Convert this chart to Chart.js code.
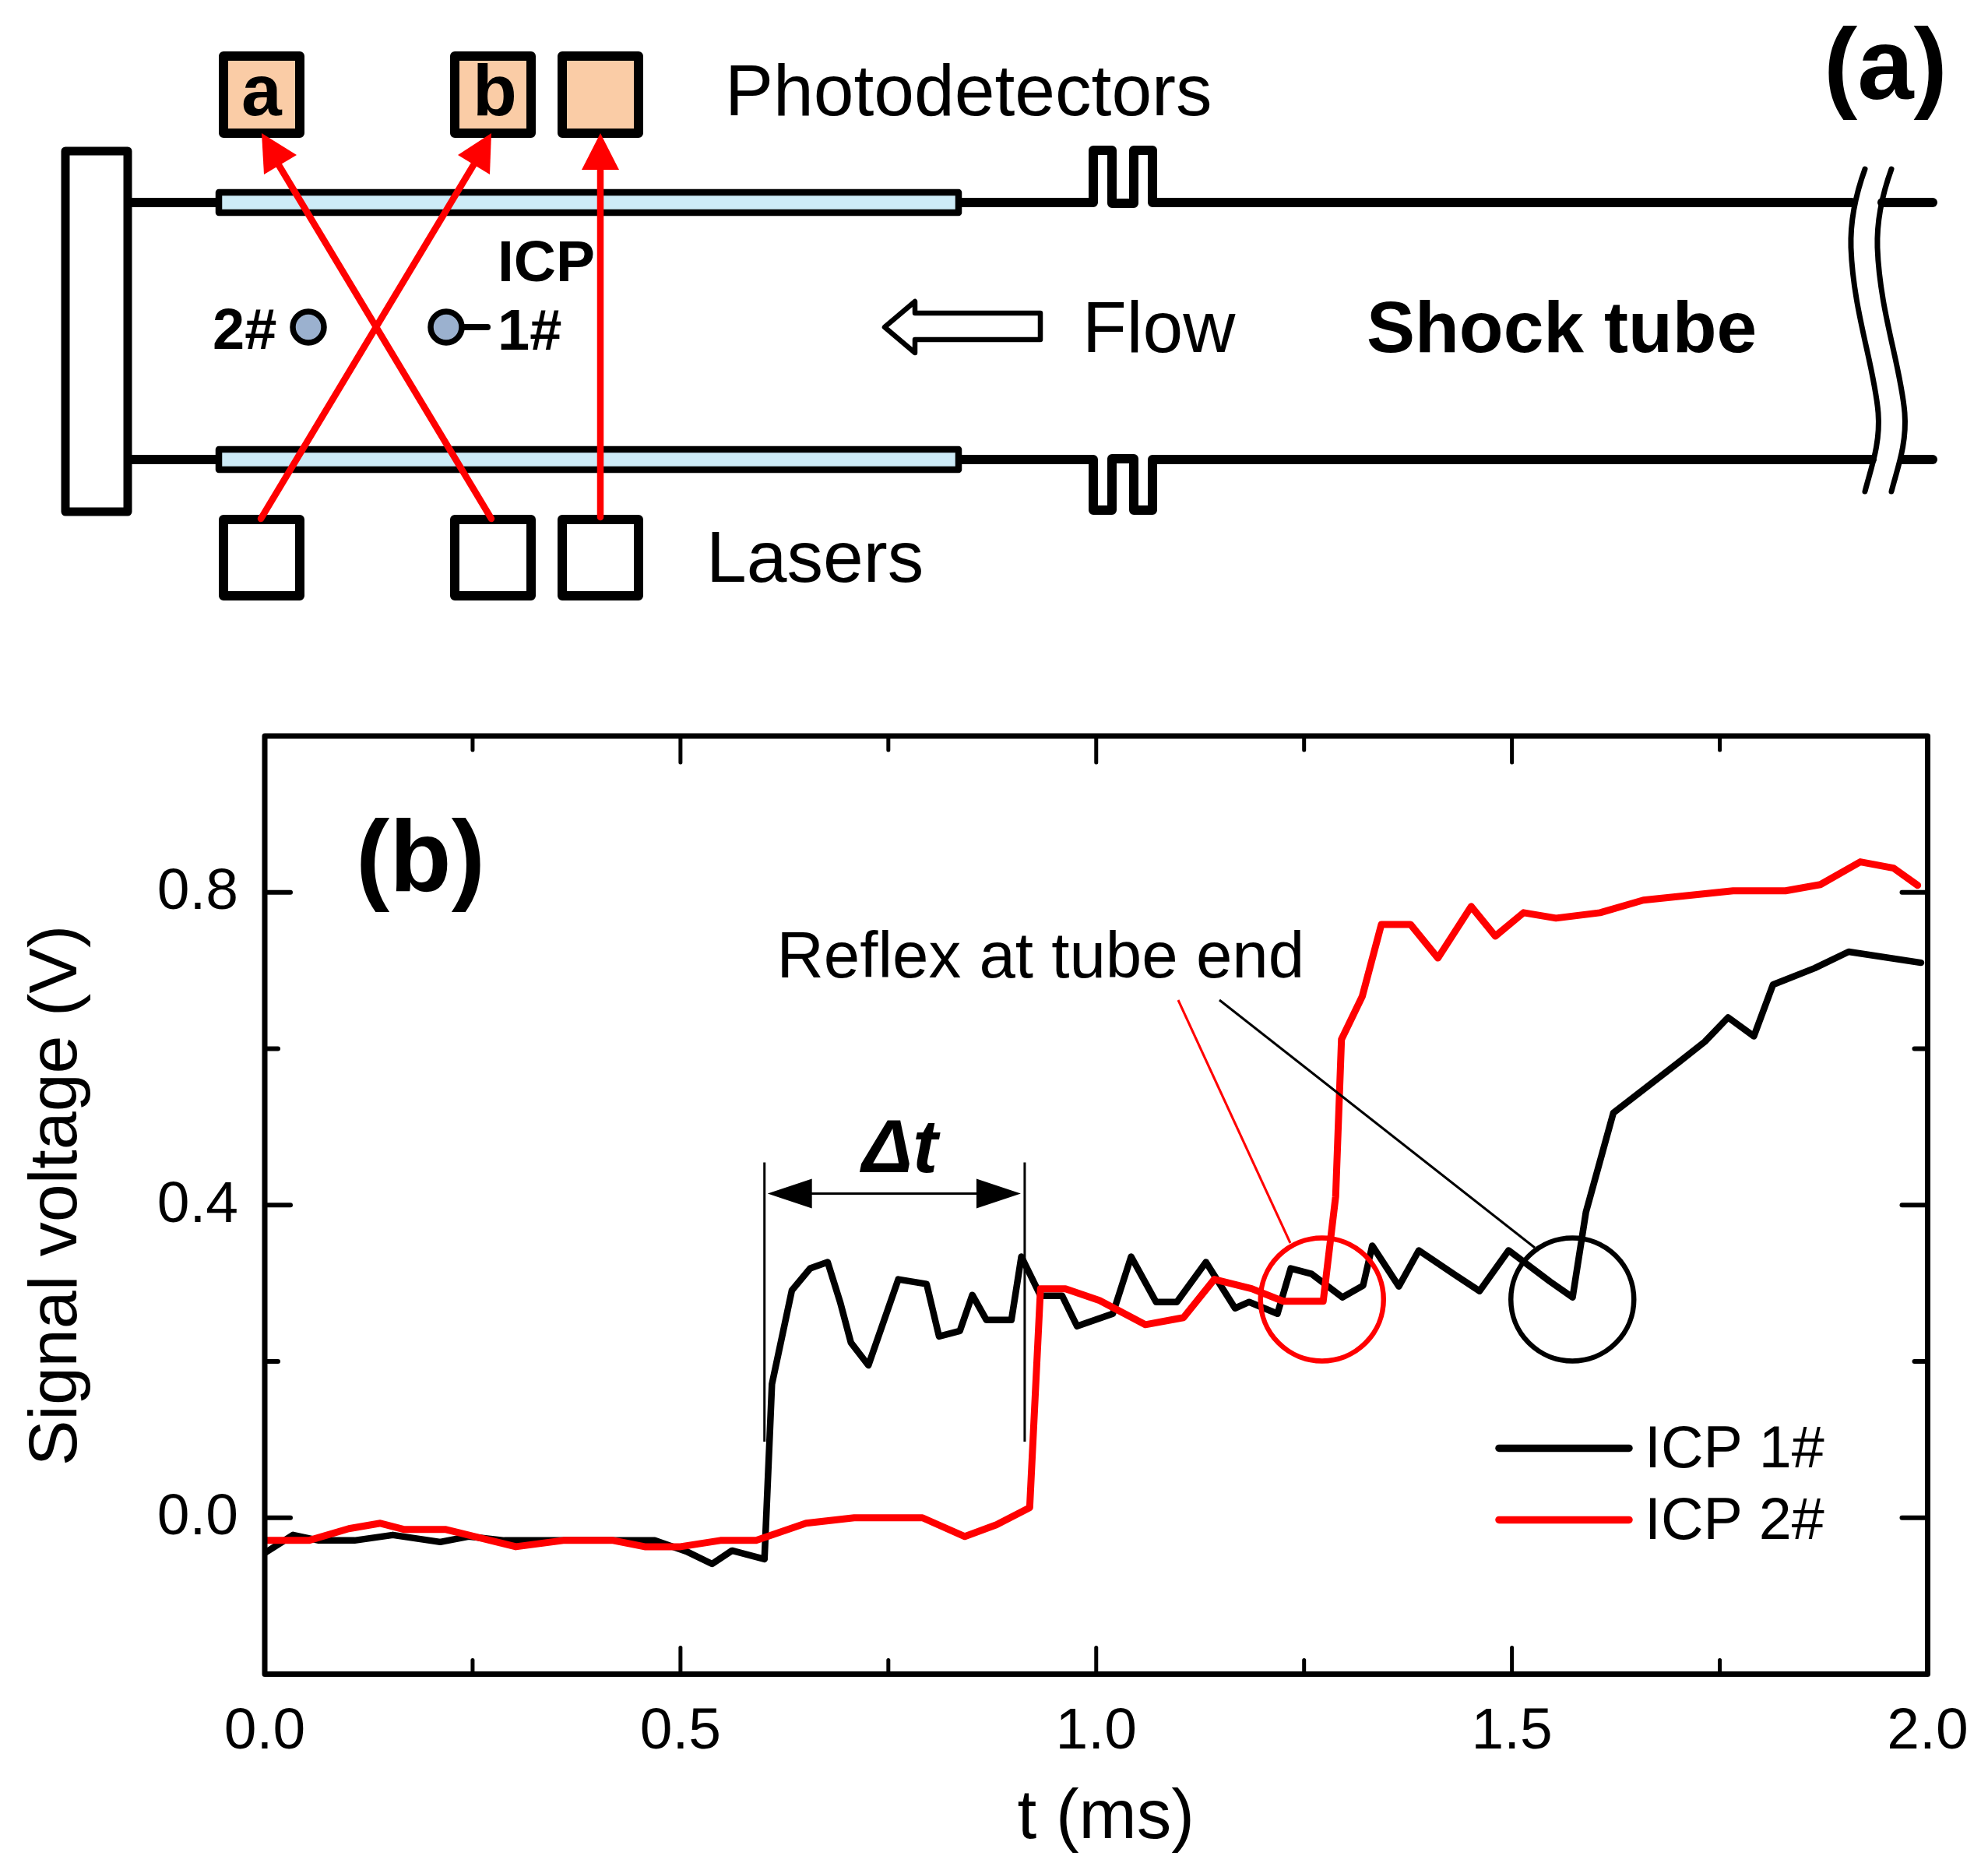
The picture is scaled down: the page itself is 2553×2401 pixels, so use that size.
<!DOCTYPE html>
<html><head><meta charset="utf-8">
<style>html,body{margin:0;padding:0;background:#fff}canvas{display:block}</style>
<script src="https://cdn.jsdelivr.net/npm/chart.js@4"></script>
</head><body><canvas id="c" width="2553" height="2401" style="width:2553px;height:2401px"></canvas>
<script>
const seriesNames = ['ICP 1#', 'ICP 2#'];
const t1 = [0,0.034,0.065,0.108,0.154,0.211,0.245,0.288,0.469,0.507,0.538,0.562,0.601,0.610,0.634,0.656,0.677,0.692,0.705,0.726,0.762,0.796,0.811,0.836,0.851,0.868,0.898,0.910,0.933,0.959,0.977,1.020,1.042,1.072,1.097,1.132,1.167,1.184,1.218,1.234,1.259,1.296,1.321,1.332,1.364,1.388,1.431,1.461,1.496,1.546,1.573,1.589,1.622,1.701,1.732,1.760,1.791,1.814,1.864,1.905,1.992];
const v1 = [-0.045,-0.022,-0.029,-0.029,-0.022,-0.031,-0.024,-0.029,-0.029,-0.043,-0.059,-0.042,-0.053,0.171,0.291,0.319,0.327,0.276,0.224,0.195,0.305,0.299,0.232,0.239,0.285,0.253,0.253,0.334,0.284,0.284,0.245,0.261,0.334,0.276,0.276,0.327,0.268,0.276,0.261,0.319,0.312,0.282,0.297,0.348,0.296,0.342,0.311,0.290,0.342,0.302,0.282,0.391,0.518,0.583,0.609,0.640,0.616,0.682,0.703,0.724,0.710];
const t2 = [0.002,0.053,0.101,0.139,0.168,0.218,0.302,0.359,0.419,0.457,0.500,0.548,0.591,0.651,0.709,0.791,0.842,0.880,0.920,0.933,0.963,1.004,1.059,1.105,1.142,1.187,1.225,1.273,1.288,1.295,1.320,1.343,1.378,1.411,1.451,1.480,1.514,1.553,1.606,1.658,1.766,1.829,1.871,1.919,1.959,1.988];
const v2 = [-0.029,-0.029,-0.014,-0.007,-0.015,-0.015,-0.037,-0.029,-0.029,-0.037,-0.037,-0.029,-0.029,-0.007,0,0,-0.024,-0.009,0.013,0.293,0.293,0.278,0.247,0.256,0.305,0.293,0.277,0.277,0.411,0.612,0.667,0.759,0.759,0.716,0.782,0.744,0.774,0.767,0.774,0.790,0.802,0.802,0.810,0.839,0.831,0.809];
const xLabelled = [0, 0.5, 1, 1.5, 2];
const yLabelled = [0, 0.4, 0.8];
const deltaT = [0.601, 0.914];
const reflexT = [1.2716, 1.5727];
const reflexV = 0.2793;

const isIn = (list, v) => list.some(k => Math.abs(k - v) < 1e-6);
const fmt = v => (Math.abs(v) < 1e-6 ? 0 : v).toFixed(1);
const REG = '"Liberation Sans", Arial, sans-serif';

function txt(ctx, s, x, y, font, color) {
  ctx.font = font + ' ' + REG; ctx.fillStyle = color || '#000';
  ctx.textAlign = 'left'; ctx.textBaseline = 'alphabetic'; ctx.fillText(s, x, y);
}
function poly(ctx, pts, w, color, close) {
  ctx.beginPath(); pts.forEach((p, i) => i ? ctx.lineTo(p[0], p[1]) : ctx.moveTo(p[0], p[1]));
  if (close) ctx.closePath();
  ctx.lineWidth = w; ctx.strokeStyle = color || '#000'; ctx.lineJoin = 'round'; ctx.lineCap = 'round'; ctx.stroke();
}
function box(ctx, x0, y0, x1, y1, w, fill) {
  ctx.beginPath(); ctx.rect(x0, y0, x1 - x0, y1 - y0);
  if (fill) { ctx.fillStyle = fill; ctx.fill(); }
  ctx.lineWidth = w; ctx.strokeStyle = '#000'; ctx.lineJoin = 'round'; ctx.stroke();
}
function tri(ctx, a, b, c, color) {
  ctx.beginPath(); ctx.moveTo(a[0], a[1]); ctx.lineTo(b[0], b[1]); ctx.lineTo(c[0], c[1]); ctx.closePath();
  ctx.fillStyle = color; ctx.fill();
}

function drawSchematic(ctx) {
  const DET = '#FACCA6', WIN = '#CDEBF7', RED = '#FF0000', W = 12;
  // end plate
  box(ctx, 84, 194, 164, 657, 11);
  // tube walls with flanges
  poly(ctx, [[170,260],[280,260]], W); poly(ctx, [[170,590],[280,590]], W);
  poly(ctx, [[1232,260],[1404,260],[1404,193],[1428,193],[1428,261],[1456,261],[1456,193],[1480,193],[1480,260],[2378,260]], W);
  poly(ctx, [[2417,260],[2482,260]], W);
  poly(ctx, [[1232,590],[1404,590],[1404,655],[1428,655],[1428,589],[1456,589],[1456,655],[1480,655],[1480,590],[2404,590]], W);
  poly(ctx, [[2443,590],[2482,590]], W);
  // windows
  box(ctx, 281, 247, 1231, 273, 8.5, WIN);
  box(ctx, 281, 577, 1231, 603, 8.5, WIN);
  // break marks
  [0, 34].forEach(d => {
    ctx.beginPath(); ctx.moveTo(2395 + d, 217);
    ctx.bezierCurveTo(2383 + d, 250, 2376 + d, 285, 2377 + d, 318);
    ctx.bezierCurveTo(2380 + d, 400, 2407 + d, 470, 2412 + d, 530);
    ctx.bezierCurveTo(2415 + d, 570, 2403 + d, 600, 2395 + d, 631);
    ctx.lineWidth = 7; ctx.strokeStyle = '#000'; ctx.lineCap = 'round'; ctx.stroke();
  });
  // detectors and lasers
  [[287,385],[584,682],[722,820]].forEach(b => {
    box(ctx, b[0], 72, b[1], 171, 12, DET);
    box(ctx, b[0], 667, b[1], 765, 12);
  });
  // sensors
  poly(ctx, [[573,420],[626,420]], 8);
  [396, 573].forEach(x => {
    ctx.beginPath(); ctx.arc(x, 420, 20, 0, Math.PI * 2);
    ctx.fillStyle = '#9BB1CF'; ctx.fill(); ctx.lineWidth = 7.5; ctx.strokeStyle = '#000'; ctx.stroke();
  });
  // laser beams
  poly(ctx, [[335,666],[608,212]], 8.5, RED);
  tri(ctx, [631,171], [588,199], [629,224], RED);
  poly(ctx, [[631,666],[358,212]], 8.5, RED);
  tri(ctx, [336,171], [381,199], [339,224], RED);
  poly(ctx, [[771,664],[771,210]], 8.5, RED);
  tri(ctx, [771,171], [747,218], [795,218], RED);
  // flow arrow
  poly(ctx, [[1136,420],[1175,387],[1175,402],[1336,402],[1336,436],[1175,436],[1175,453]], 6.5, '#000', true);
  // text
  const R = '93px', B = 'bold 93px';
  txt(ctx, 'a', 310, 148, B);
  txt(ctx, 'b', 607, 148, B);
  txt(ctx, 'Photodetectors', 931, 148, R);
  txt(ctx, 'Lasers', 907, 747, R);
  txt(ctx, 'ICP', 639, 361, 'bold 75px');
  txt(ctx, '2#', 273, 448, 'bold 74px');
  txt(ctx, '1#', 639, 449, 'bold 74px');
  txt(ctx, 'Flow', 1390, 452, R);
  txt(ctx, 'Shock tube', 1755, 452, B);
  txt(ctx, '(a)', 2342, 127, 'bold 130px');
}

const overlay = {
  id: 'overlay',
  afterDatasetsDraw(chart) {
    const ctx = chart.ctx, a = chart.chartArea, X = chart.scales.x, Y = chart.scales.y;
    ctx.save();
    // ticks and frame
    X.ticks.forEach(tk => {
      const p = X.getPixelForValue(tk.value), L = isIn(xLabelled, tk.value) ? 34 : 18;
      if (p < a.left + 2 || p > a.right - 2) return;
      poly(ctx, [[p, a.bottom],[p, a.bottom - L]], 5);
      poly(ctx, [[p, a.top],[p, a.top + L]], 5);
    });
    Y.ticks.forEach(tk => {
      const p = Y.getPixelForValue(tk.value), L = isIn(yLabelled, tk.value) ? 33 : 17;
      if (p < a.top + 2 || p > a.bottom - 2) return;
      poly(ctx, [[a.left, p],[a.left + L, p]], 6);
      poly(ctx, [[a.right, p],[a.right - L, p]], 6);
    });
    box(ctx, a.left, a.top, a.right, a.bottom, 7);
    // delta-t bracket
    const y0 = Y.getPixelForValue(0.4546), y1 = Y.getPixelForValue(0.0973), yA = Y.getPixelForValue(0.4147);
    const xL = X.getPixelForValue(deltaT[0]), xR = X.getPixelForValue(deltaT[1]);
    ctx.lineCap = 'butt';
    [xL, xR].forEach(x => { ctx.beginPath(); ctx.moveTo(x, y0); ctx.lineTo(x, y1); ctx.lineWidth = 3; ctx.strokeStyle = '#000'; ctx.stroke(); });
    ctx.beginPath(); ctx.moveTo(xL + 50, yA); ctx.lineTo(xR - 50, yA); ctx.lineWidth = 3; ctx.stroke();
    tri(ctx, [xL + 4, yA], [xL + 61, yA - 19], [xL + 61, yA + 19], '#000');
    tri(ctx, [xR - 5, yA], [xR - 62, yA - 19], [xR - 62, yA + 19], '#000');
    txt(ctx, 'Δt', 1107, 1505, 'italic bold 97px');
    // reflection markers
    const cols = ['#FF0000', '#000000'];
    reflexT.forEach((t, i) => {
      ctx.beginPath(); ctx.arc(X.getPixelForValue(t), Y.getPixelForValue(reflexV), 79, 0, Math.PI * 2);
      ctx.lineWidth = 6.5; ctx.strokeStyle = cols[i]; ctx.stroke();
    });
    ctx.lineCap = 'butt';
    ctx.lineWidth = 3;
    ctx.strokeStyle = '#FF0000'; ctx.beginPath(); ctx.moveTo(1513, 1284); ctx.lineTo(1657, 1596); ctx.stroke();
    ctx.strokeStyle = '#000'; ctx.beginPath(); ctx.moveTo(1566, 1284); ctx.lineTo(1971, 1602); ctx.stroke();
    txt(ctx, 'Reflex at tube end', 997.5, 1255, '83.5px');
    txt(ctx, '(b)', 457, 1144, 'bold 130px');
    // legend
    chart.data.datasets.forEach((d, i) => {
      const y = 1859.4 + i * 92;
      poly(ctx, [[1925, y],[2092, y]], 9.5, d.borderColor);
      txt(ctx, d.label, 2112, y + 25, '75.5px');
    });
    drawSchematic(ctx);
    ctx.restore();
  }
};

const tickFont = { family: 'Liberation Sans', size: 75 };
new Chart(document.getElementById('c'), {
  type: 'line',
  plugins: [overlay],
  data: {
    datasets: [
      { label: seriesNames[0], data: t1.map((x, i) => ({ x, y: v1[i] })), borderColor: '#000000', borderWidth: 8.5, order: 2 },
      { label: seriesNames[1], data: t2.map((x, i) => ({ x, y: v2[i] })), borderColor: '#FF0000', borderWidth: 9, order: 1 }
    ]
  },
  options: {
    responsive: false, animation: false,
    devicePixelRatio: 1,
    elements: { point: { radius: 0 }, line: { tension: 0, borderJoinStyle: 'round', borderCapStyle: 'round' } },
    plugins: { legend: { display: false }, tooltip: { enabled: false } },
    layout: { autoPadding: false, padding: { left: 0, top: 945, right: 77.5, bottom: 0 } },
    scales: {
      x: {
        type: 'linear', min: 0, max: 2,
        afterFit(s) { s.height = 251.5; s.paddingLeft = 0; s.paddingRight = 0; },
        grid: { display: false, drawTicks: false }, border: { display: false },
        ticks: { stepSize: 0.25, autoSkip: false, maxRotation: 0, padding: 30, color: '#000', font: tickFont,
          callback: v => isIn(xLabelled, v) ? fmt(v) : '' },
        title: { display: true, text: ' t (ms)', color: '#000', font: { family: 'Liberation Sans', size: 89 }, padding: { top: 0, bottom: 12 } }
      },
      y: {
        type: 'linear', min: -0.2, max: 1,
        afterFit(s) { s.width = 340; s.paddingTop = 0; s.paddingBottom = 0; },
        grid: { display: false, drawTicks: false }, border: { display: false },
        ticks: { stepSize: 0.2, autoSkip: false, padding: 34, labelOffset: 1, color: '#000', font: tickFont,
          callback: v => isIn(yLabelled, v) ? fmt(v) : '' },
        title: { display: true, text: ' Signal voltage (V)', color: '#000', font: { family: 'Liberation Sans', size: 88 }, padding: { top: 21, bottom: 0 } }
      }
    }
  }
});
</script></body></html>
